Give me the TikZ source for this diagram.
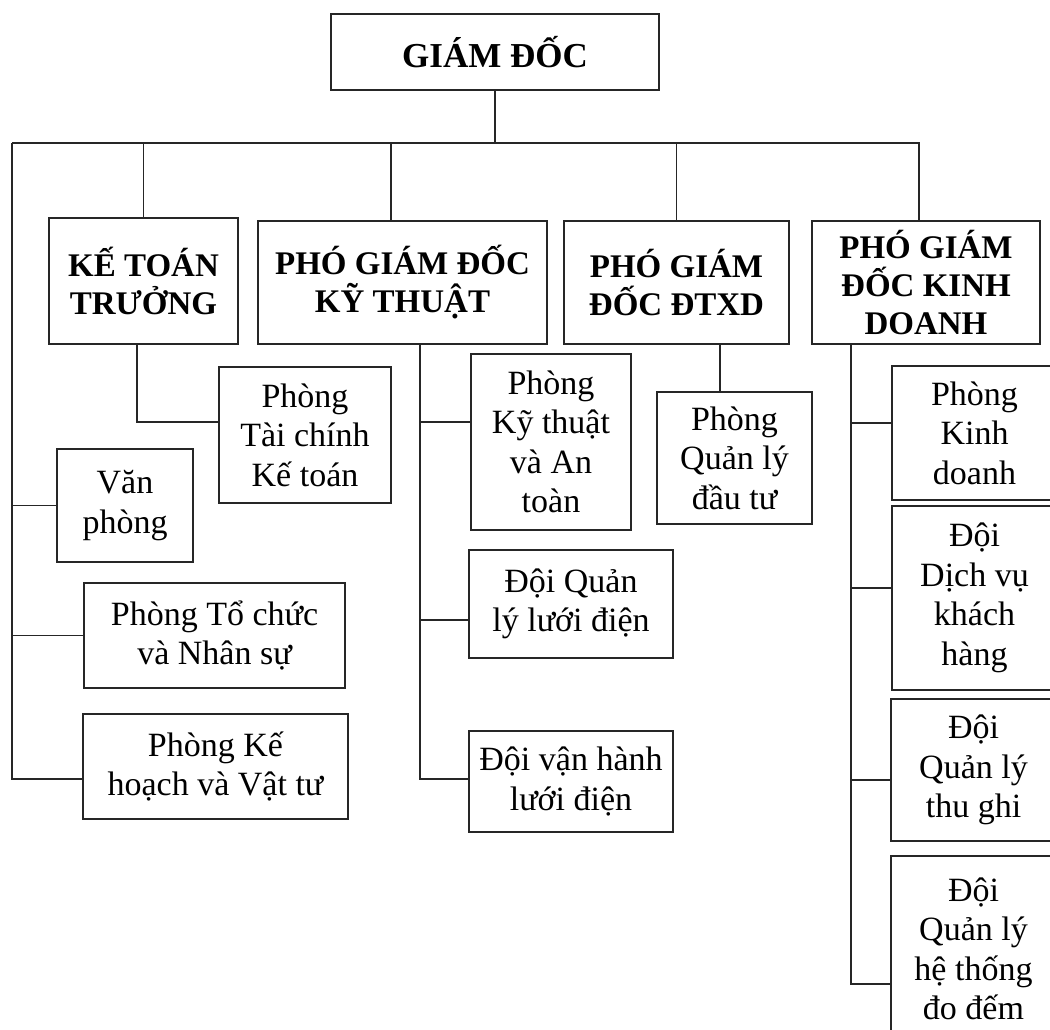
\documentclass[tikz,border=0pt]{standalone}
\usepackage{fontspec}
\setmainfont{Liberation Serif}
\tikzset{
	khung/.style={draw=black!85, line width=1.2pt, inner sep=0pt, align=center},
	noi/.style={draw=black!85, line width=1.2pt},
	dam/.style={font=\bfseries\fontsize{33}{38}\selectfont},
	thuong/.style={font=\fontsize{34}{39.5}\selectfont},
}
\begin{document}
\begin{tikzpicture}[x=1pt,y=-1pt]
\clip (0,0) rectangle (1050,1030);
\node[khung,font=\bfseries\fontsize{35}{40}\selectfont,minimum width=328,minimum height=76] (gd) at (495,52) {GIÁM ĐỐC};
\node[khung,dam,minimum width=189,minimum height=126] (ktt) at (143.5,281) {KẾ TOÁN\\TRƯỞNG};
\node[khung,dam,minimum width=289,minimum height=123] (pgdkt) at (402.5,282.5) {PHÓ GIÁM ĐỐC\\KỸ THUẬT};
\node[khung,dam,minimum width=225,minimum height=123] (pgdxd) at (676.5,282.5) {PHÓ GIÁM\\ĐỐC ĐTXD};
\node[khung,dam,minimum width=228,minimum height=123] (pgdkd) at (926,282.5) {PHÓ GIÁM\\ĐỐC KINH\\DOANH};

\node[khung,thuong,minimum width=172,minimum height=136] (tckt) at (305,435) {Phòng\\Tài chính\\Kế toán};
\node[khung,thuong,minimum width=136,minimum height=113] (vp) at (125,505.5) {Văn\\phòng};
\node[khung,thuong,minimum width=261,minimum height=105] (tc) at (214.5,635.5) {Phòng Tổ chức\\và Nhân sự};
\node[khung,thuong,minimum width=265,minimum height=105] (khvt) at (215.5,766.5) {Phòng Kế\\hoạch và Vật tư};

\node[khung,thuong,minimum width=160,minimum height=176] (ktat) at (551,442) {Phòng\\Kỹ thuật\\và An\\toàn};
\node[khung,thuong,minimum width=204,minimum height=108] (qlld) at (571,604) {Đội Quản\\lý lưới điện};
\node[khung,thuong,minimum width=204,minimum height=101] (vhld) at (571,781.5) {Đội vận hành\\lưới điện};
\node[khung,thuong,minimum width=155,minimum height=132] (qldt) at (734.5,458) {Phòng\\Quản lý\\đầu tư};

\node[khung,thuong,minimum width=165,minimum height=134] (pkd) at (974.5,433) {Phòng\\Kinh\\doanh};
\node[khung,thuong,minimum width=165,minimum height=184] (dvkh) at (974.5,598) {Đội\\Dịch vụ\\khách\\hàng};
\node[khung,thuong,minimum width=165,minimum height=142] (qltg) at (973.5,770) {Đội\\Quản lý\\thu ghi};
\node[khung,thuong,minimum width=165,minimum height=186] (htdd) at (973.5,949) {Đội\\Quản lý\\hệ thống\\đo đếm};

\coordinate (busL) at (12,143);
\coordinate (busR) at (919,143);
\coordinate (d2) at (391,143);
\coordinate (s1) at (137,344);
\coordinate (s2) at (420,344);
\coordinate (s3) at (720,344);
\coordinate (s4) at (851,344);

\draw[noi] (gd.south) -- (gd.south |- busL);
\draw[noi] (busL) -- (busR) -- (busR |- pgdkd.north);
\draw[noi] (ktt.north |- busL) -- (ktt.north);
\draw[noi] (d2) -- (d2 |- pgdkt.north);
\draw[noi] (pgdxd.north |- busL) -- (pgdxd.north);

\draw[noi] (busL) |- ([yshift=-12.5pt]khvt.west);
\draw[noi] (vp.west) -- (vp.west -| busL);
\draw[noi] (tc.west) -- (tc.west -| busL);
\draw[noi] (s1) |- ([yshift=13pt]tckt.west);

\draw[noi] (s2) |- ([yshift=2.5pt]vhld.west);
\draw[noi] ([yshift=20pt]ktat.west) -- ([yshift=20pt]ktat.west -| s2);
\draw[noi] ([yshift=-16pt]qlld.west) -- ([yshift=-16pt]qlld.west -| s2);

\draw[noi] (s3) -- (s3 |- qldt.north);

\draw[noi] (s4) |- ([yshift=-35pt]htdd.west);
\draw[noi] ([yshift=10pt]pkd.west) -- ([yshift=10pt]pkd.west -| s4);
\draw[noi] ([yshift=10pt]dvkh.west) -- ([yshift=10pt]dvkh.west -| s4);
\draw[noi] ([yshift=-10pt]qltg.west) -- ([yshift=-10pt]qltg.west -| s4);
\end{tikzpicture}
\end{document}
